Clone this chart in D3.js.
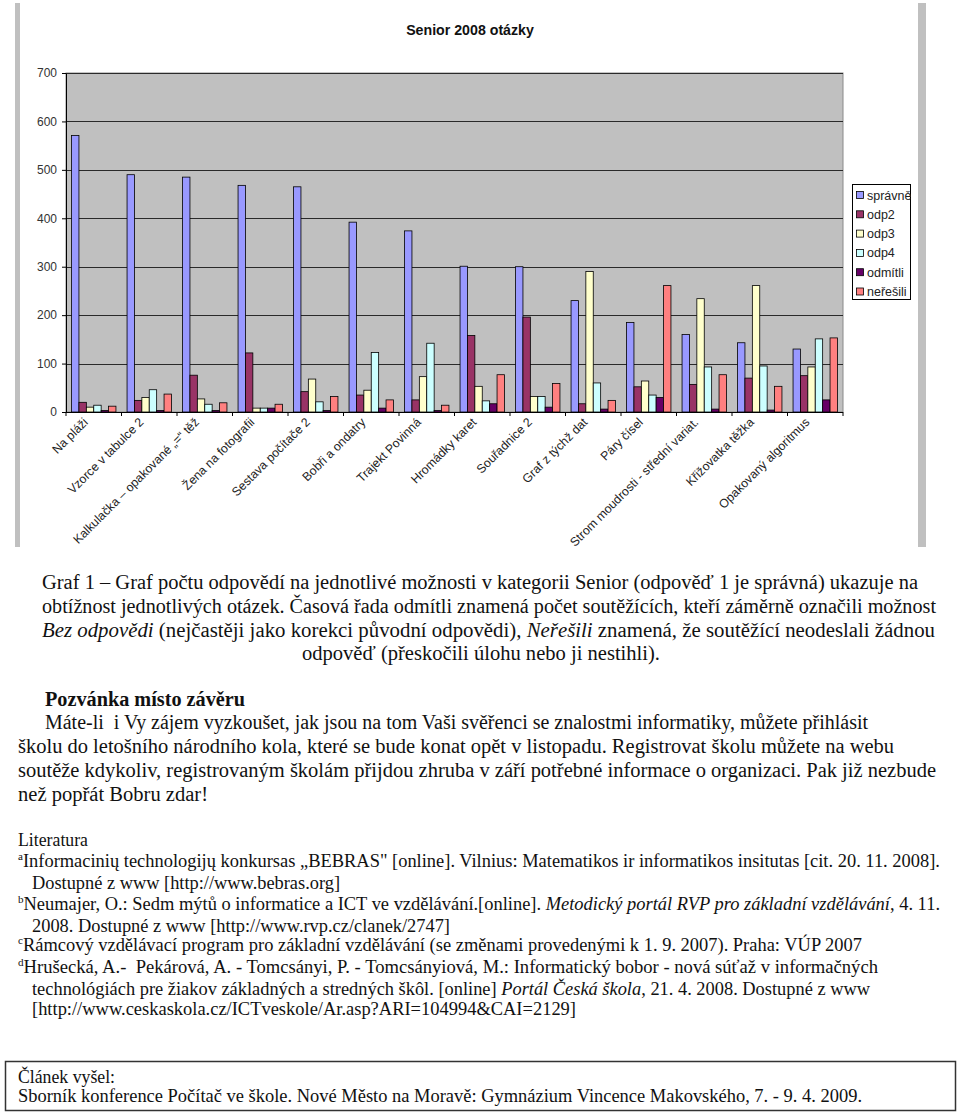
<!DOCTYPE html>
<html><head><meta charset="utf-8">
<script src="https://cdn.jsdelivr.net/npm/d3@7/dist/d3.min.js"></script>
<style>body{margin:0;background:#fff} svg{display:block} .t{white-space:pre}</style>
</head><body>
<svg id="c" width="960" height="1113"></svg>
<script>
// ---- chart data ----
const categories = ["Na pláži","Vzorce v tabulce 2","Kalkulačka – opakované „=“ těž","Žena na fotografii","Sestava počítače 2","Bobři a ondatry","Trajekt Povinná","Hromádky karet","Souřadnice 2","Graf z týchž dat","Páry čísel","Strom moudrosti - střední variat.","Křižovatka těžka","Opakovaný algoritmus"];
const seriesNames = ["správně","odp2","odp3","odp4","odmítli","neřešili"];
const spravne  = [571,490,485,468,465,392,374,301,300,230,185,160,143,130];
const odp2     = [20,24,76,122,42,35,25,158,196,17,52,57,70,75];
const odp3     = [10,30,27,8,68,45,73,53,32,290,64,234,261,93];
const odp4     = [14,46,16,8,21,123,142,23,32,60,35,93,95,151];
const odmitli  = [3,3,3,8,3,8,3,17,10,6,30,6,4,25];
const neresili = [12,37,19,16,32,25,14,77,59,24,261,77,53,153];
const yTicks = [0,100,200,300,400,500,600,700];
const chartTitle = "Senior 2008 otázky";

const seriesValues = [spravne, odp2, odp3, odp4, odmitli, neresili];
const colors = ["#9999FF","#993366","#FFFFCC","#CCFFFF","#660066","#FF8080"];

const svg = d3.select("#c");
svg.append("rect").attr("width",960).attr("height",1113).attr("fill","#fff");

// side frame bars
svg.append("rect").attr("x",15).attr("y",3).attr("width",5).attr("height",544).attr("fill","#c0c0c0");
svg.append("rect").attr("x",918).attr("y",3).attr("width",8).attr("height",544).attr("fill","#c0c0c0");

const L = 66, R = 843, T = 73, B = 412;
const x0 = d3.scaleBand().domain(categories).range([L,R]).paddingInner(0).paddingOuter(0);
const x1 = d3.scaleBand().domain(seriesNames).range([0,x0.bandwidth()]).paddingInner(0).paddingOuter(0.75);
const y = d3.scaleLinear().domain([0,700]).range([B,T]);

// plot area
svg.append("rect").attr("x",L).attr("y",T).attr("width",R-L).attr("height",B-T)
  .attr("fill","#c0c0c0").attr("stroke","#8a8a8a");

// gridlines
svg.append("g").selectAll("line").data(yTicks.filter(d=>d>0)).join("line")
  .attr("x1",L).attr("x2",R).attr("y1",d=>Math.round(y(d))+0.5).attr("y2",d=>Math.round(y(d))+0.5)
  .attr("stroke","#2a2a2a").attr("stroke-width",1);

// bars
const g = svg.append("g");
categories.forEach((c,ci)=>{
  seriesNames.forEach((s,si)=>{
    const v = seriesValues[si][ci];
    g.append("rect")
      .attr("x", x0(c)+x1(s)).attr("width", x1.bandwidth())
      .attr("y", y(v)).attr("height", B - y(v))
      .attr("fill", colors[si]).attr("stroke","#000").attr("stroke-width",0.8);
  });
});

// y axis
const ya = svg.append("g").attr("transform",`translate(${L},0)`)
  .call(d3.axisLeft(y).tickValues(yTicks).tickSize(4).tickPadding(5).tickSizeOuter(0));
ya.select(".domain").attr("stroke","#000");
ya.selectAll(".tick line").attr("stroke","#000");
ya.selectAll("text").attr("font-family","Liberation Sans, Arial, sans-serif").attr("font-size",12).attr("fill","#333");

// x axis baseline and ticks
svg.append("line").attr("x1",L).attr("x2",R).attr("y1",B+0.5).attr("y2",B+0.5).attr("stroke","#000");
const xt = categories.map(c=>x0(c)).concat([R]);
svg.append("g").selectAll("line").data(xt).join("line")
  .attr("x1",d=>d).attr("x2",d=>d).attr("y1",B).attr("y2",B+4).attr("stroke","#000");

// x labels
svg.append("g").selectAll("text").data(categories).join("text")
  .attr("transform",c=>`translate(${x0(c)+x0.bandwidth()/2-5},${B+11}) rotate(-45)`)
  .attr("text-anchor","end")
  .attr("font-family","Liberation Sans, Arial, sans-serif").attr("font-size",12.3).attr("fill","#222")
  .text(d=>d);

// title
svg.append("text").attr("x",470).attr("y",35).attr("text-anchor","middle")
  .attr("font-family","Liberation Sans, Arial, sans-serif").attr("font-weight","bold").attr("font-size",14.2)
  .attr("fill","#111").text(chartTitle);

// legend
const lg = svg.append("g");
svg.append("clipPath").attr("id","lgclip").append("rect").attr("x",852).attr("y",184).attr("width",59).attr("height",116);
lg.append("rect").attr("x",852.5).attr("y",184.5).attr("width",58).attr("height",115).attr("fill","#fff").attr("stroke","#000");
const li = lg.append("g").attr("clip-path","url(#lgclip)").selectAll("g").data(seriesNames).join("g")
  .attr("transform",(d,i)=>`translate(0,${195+i*19.3})`);
li.append("rect").attr("x",856.5).attr("y",-3.5).attr("width",7).attr("height",7)
  .attr("fill",(d,i)=>colors[i]).attr("stroke","#000").attr("stroke-width",0.8);
li.append("text").attr("x",867).attr("y",4.5)
  .attr("font-family","Liberation Sans, Arial, sans-serif").attr("font-size",12.5).attr("fill","#222")
  .text(d=>d);

// ---- document text ----
const S = (t,o={})=>Object.assign({t},o);
const textLines = [
  {x:42,y:589,w:876,fs:20,seg:[S("Graf 1 – Graf počtu odpovědí na jednotlivé možnosti v kategorii Senior (odpověď 1 je správná) ukazuje na")]},
  {x:42,y:613,w:894,fs:20,seg:[S("obtížnost jednotlivých otázek. Časová řada odmítli znamená počet soutěžících, kteří záměrně označili možnost")]},
  {x:42,y:637,w:893,fs:20,seg:[S("Bez odpovědi",{i:1}),S(" (nejčastěji jako korekci původní odpovědi), "),S("Neřešili",{i:1}),S(" znamená, že soutěžící neodeslali žádnou")]},
  {x:302,y:660,w:358,fs:20,seg:[S("odpověď (přeskočili úlohu nebo ji nestihli).")]},
  {x:45,y:706,w:200,fs:20,seg:[S("Pozvánka místo závěru",{b:1})]},
  {x:45,y:729,w:823,fs:20,seg:[S("Máte-li  i Vy zájem vyzkoušet, jak jsou na tom Vaši svěřenci se znalostmi informatiky, můžete přihlásit")]},
  {x:18,y:753,w:876,fs:20,seg:[S("školu do letošního národního kola, které se bude konat opět v listopadu. Registrovat školu můžete na webu")]},
  {x:18,y:777,w:918,fs:20,seg:[S("soutěže kdykoliv, registrovaným školám přijdou zhruba v září potřebné informace o organizaci. Pak již nezbude")]},
  {x:18,y:801,w:190,fs:20,seg:[S("než popřát Bobru zdar!")]},
  {x:18,y:846,w:70,fs:18,seg:[S("Literatura")]},
  {x:18,y:867,w:922,fs:18,seg:[S("a",{s:1}),S("Informacinių technologijų konkursas „BEBRAS\" [online]. Vilnius: Matematikos ir informatikos insitutas [cit. 20. 11. 2008].")]},
  {x:32,y:889,w:308,fs:18,seg:[S("Dostupné z www [http://www.bebras.org]")]},
  {x:18,y:910,w:922,fs:18,seg:[S("b",{s:1}),S("Neumajer, O.: Sedm mýtů o informatice a ICT ve vzdělávání.[online]. "),S("Metodický portál RVP pro základní vzdělávání",{i:1}),S(", 4. 11.")]},
  {x:32,y:932,w:418,fs:18,seg:[S("2008. Dostupné z www [http://www.rvp.cz/clanek/2747]")]},
  {x:18,y:951,w:844,fs:18,seg:[S("c",{s:1}),S("Rámcový vzdělávací program pro základní vzdělávání (se změnami provedenými k 1. 9. 2007). Praha: VÚP 2007")]},
  {x:18,y:973,w:860,fs:18,seg:[S("d",{s:1}),S("Hrušecká, A.-  Pekárová, A. - Tomcsányi, P. - Tomcsányiová, M.: Informatický bobor - nová súťaž v informačných")]},
  {x:32,y:995,w:838,fs:18,seg:[S("technológiách pre žiakov základných a stredných škôl. [online] "),S("Portál Česká škola",{i:1}),S(", 21. 4. 2008. Dostupné z www")]},
  {x:32,y:1015,w:544,fs:18,seg:[S("[http://www.ceskaskola.cz/ICTveskole/Ar.asp?ARI=104994&CAI=2129]")]},
  {x:18,y:1083,w:97,fs:18,seg:[S("Článek vyšel:")]},
  {x:18,y:1102,w:844,fs:18,seg:[S("Sborník konference Počítač ve škole. Nové Město na Moravě: Gymnázium Vincence Makovského, 7. - 9. 4. 2009.")]}
];

svg.append("rect").attr("x",5.5).attr("y",1061.5).attr("width",950).attr("height",49)
  .attr("fill","none").attr("stroke","#333").attr("stroke-width",1.5);

const tg = svg.append("g").attr("font-family","Liberation Serif, Times New Roman, serif").attr("fill","#111");
textLines.forEach(l=>{
  const te = tg.append("text").attr("class","t").attr("x",l.x).attr("y",l.y)
    .attr("font-size",l.fs).attr("textLength",l.w).attr("lengthAdjust","spacingAndGlyphs");
  let shifted = false;
  l.seg.forEach(s=>{
    const sp = te.append("tspan").text(s.t);
    if (s.i) sp.attr("font-style","italic");
    if (s.b) sp.attr("font-weight","bold");
    if (s.s) { sp.attr("font-size",l.fs*0.6).attr("dy",-l.fs*0.38); shifted = true; }
    else if (shifted) { sp.attr("dy",l.fs*0.38); shifted = false; }
  });
});
</script>
</body></html>
